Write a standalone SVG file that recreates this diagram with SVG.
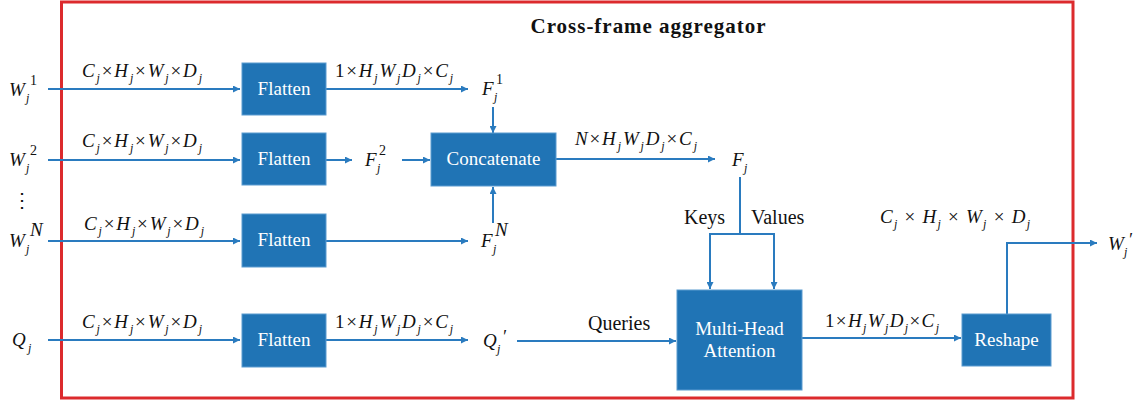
<svg xmlns="http://www.w3.org/2000/svg" width="1138" height="404" viewBox="0 0 1138 404">
<style>
.box{fill:#2074b5;stroke:#5a9bd0;stroke-width:1}
.bt{font-family:'Liberation Serif',serif;font-size:19px;fill:#ffffff;text-anchor:middle}
.c{fill:none;stroke:#2a7bbf;stroke-width:2}
.m{font-family:'Liberation Serif',serif;font-style:italic;font-size:19px;fill:#111}
.s{font-size:12px}
.n{font-style:normal}
.sup{font-family:'Liberation Serif',serif;font-size:14px;fill:#111}
.pr{font-family:'Liberation Serif',serif;font-style:italic;font-size:18px;fill:#111}
.lb{font-family:'Liberation Serif',serif;font-size:20px;fill:#111}
</style>
<defs>
<marker id="ah" viewBox="0 0 10 10" refX="10" refY="5" markerWidth="8" markerHeight="7" markerUnits="userSpaceOnUse" orient="auto">
<path d="M0,0 L10,5 L0,10 z" fill="#2a7bbf"/>
</marker>
</defs>
<rect x="61.5" y="2" width="1011.5" height="396" fill="none" stroke="#dc2a2d" stroke-width="3"/>
<text x="648" y="33" font-family="'Liberation Serif',serif" font-weight="bold" font-size="21" text-anchor="middle" fill="#111" textLength="235">Cross-frame aggregator</text>

<g id="connectors">
<path class="c" d="M48,89 H240" marker-end="url(#ah)"/>
<path class="c" d="M326,89 H468" marker-end="url(#ah)"/>
<path class="c" d="M48,160 H240" marker-end="url(#ah)"/>
<path class="c" d="M326,160 H352" marker-end="url(#ah)"/>
<path class="c" d="M402,160 H430" marker-end="url(#ah)"/>
<path class="c" d="M493,107 V133" marker-end="url(#ah)"/>
<path class="c" d="M493,223 V187" marker-end="url(#ah)"/>
<path class="c" d="M48,241 H240" marker-end="url(#ah)"/>
<path class="c" d="M326,241 H468" marker-end="url(#ah)"/>
<path class="c" d="M48,340 H240" marker-end="url(#ah)"/>
<path class="c" d="M326,340 H468" marker-end="url(#ah)"/>
<path class="c" d="M556,159 H715" marker-end="url(#ah)"/>
<path class="c" d="M740,177 V234 H710 V289" marker-end="url(#ah)"/>
<path class="c" d="M740,234 H774 V289" marker-end="url(#ah)"/>
<path class="c" d="M517,341 H676" marker-end="url(#ah)"/>
<path class="c" d="M802,338 H961" marker-end="url(#ah)"/>
<path class="c" d="M1007,314 V243 H1097" marker-end="url(#ah)"/>
</g>

<g id="flatten1"><rect class="box" x="242" y="63" width="84" height="52"/><text class="bt" x="284" y="95">Flatten</text></g>
<g id="flatten2"><rect class="box" x="242" y="133" width="84" height="52"/><text class="bt" x="284" y="165">Flatten</text></g>
<g id="flattenN"><rect class="box" x="242" y="214" width="84" height="53"/><text class="bt" x="284" y="246">Flatten</text></g>
<g id="flattenQ"><rect class="box" x="242" y="314" width="84" height="53"/><text class="bt" x="284" y="346">Flatten</text></g>
<g id="concat"><rect class="box" x="431" y="133" width="125" height="53"/><text class="bt" x="493.5" y="165">Concatenate</text></g>
<g id="mha"><rect class="box" x="677" y="290" width="125" height="100"/><text class="bt" x="739.5" y="335">Multi-Head</text><text class="bt" x="739.5" y="357">Attention</text></g>
<g id="reshape"><rect class="box" x="962" y="314" width="89" height="52"/><text class="bt" x="1006.5" y="346">Reshape</text></g>

<g id="inputs">
<text class="m" x="9" y="96">W</text><text class="m s" x="26" y="102">j</text><text class="sup" x="30" y="85">1</text>
<text class="m" x="9" y="166">W</text><text class="m s" x="26" y="172">j</text><text class="sup" x="30" y="155">2</text>
<text class="lb" x="22" y="207" text-anchor="middle">⋮</text>
<text class="m" x="9" y="247">W</text><text class="m s" x="26" y="253">j</text><text class="m" x="30" y="236" font-size="14">N</text>
<text class="m" x="12" y="346">Q</text><text class="m s" x="28" y="352">j</text>
</g>

<g id="dimlabels">
<text class="m" x="82" y="77" textLength="120">C<tspan class="s" dy="5">j</tspan><tspan class="n" dy="-5">×</tspan>H<tspan class="s" dy="5">j</tspan><tspan class="n" dy="-5">×</tspan>W<tspan class="s" dy="5">j</tspan><tspan class="n" dy="-5">×</tspan>D<tspan class="s" dy="5">j</tspan></text>
<text class="m" x="82" y="147" textLength="120">C<tspan class="s" dy="5">j</tspan><tspan class="n" dy="-5">×</tspan>H<tspan class="s" dy="5">j</tspan><tspan class="n" dy="-5">×</tspan>W<tspan class="s" dy="5">j</tspan><tspan class="n" dy="-5">×</tspan>D<tspan class="s" dy="5">j</tspan></text>
<text class="m" x="84" y="230" textLength="120">C<tspan class="s" dy="5">j</tspan><tspan class="n" dy="-5">×</tspan>H<tspan class="s" dy="5">j</tspan><tspan class="n" dy="-5">×</tspan>W<tspan class="s" dy="5">j</tspan><tspan class="n" dy="-5">×</tspan>D<tspan class="s" dy="5">j</tspan></text>
<text class="m" x="82" y="328" textLength="120">C<tspan class="s" dy="5">j</tspan><tspan class="n" dy="-5">×</tspan>H<tspan class="s" dy="5">j</tspan><tspan class="n" dy="-5">×</tspan>W<tspan class="s" dy="5">j</tspan><tspan class="n" dy="-5">×</tspan>D<tspan class="s" dy="5">j</tspan></text>
<text class="m" x="335" y="77" textLength="118"><tspan class="n">1×</tspan>H<tspan class="s" dy="5">j</tspan><tspan dy="-5">W</tspan><tspan class="s" dy="5">j</tspan><tspan dy="-5">D</tspan><tspan class="s" dy="5">j</tspan><tspan class="n" dy="-5">×</tspan>C<tspan class="s" dy="5">j</tspan></text>
<text class="m" x="335" y="328" textLength="118"><tspan class="n">1×</tspan>H<tspan class="s" dy="5">j</tspan><tspan dy="-5">W</tspan><tspan class="s" dy="5">j</tspan><tspan dy="-5">D</tspan><tspan class="s" dy="5">j</tspan><tspan class="n" dy="-5">×</tspan>C<tspan class="s" dy="5">j</tspan></text>
<text class="m" x="825" y="327" textLength="114"><tspan class="n">1×</tspan>H<tspan class="s" dy="5">j</tspan><tspan dy="-5">W</tspan><tspan class="s" dy="5">j</tspan><tspan dy="-5">D</tspan><tspan class="s" dy="5">j</tspan><tspan class="n" dy="-5">×</tspan>C<tspan class="s" dy="5">j</tspan></text>
<text class="m" x="575" y="145" textLength="122">N<tspan class="n">×</tspan>H<tspan class="s" dy="5">j</tspan><tspan dy="-5">W</tspan><tspan class="s" dy="5">j</tspan><tspan dy="-5">D</tspan><tspan class="s" dy="5">j</tspan><tspan class="n" dy="-5">×</tspan>C<tspan class="s" dy="5">j</tspan></text>
<text class="m" x="880" y="223" textLength="150">C<tspan class="s" dy="5">j</tspan><tspan class="n" dy="-5"> × </tspan>H<tspan class="s" dy="5">j</tspan><tspan class="n" dy="-5"> × </tspan>W<tspan class="s" dy="5">j</tspan><tspan class="n" dy="-5"> × </tspan>D<tspan class="s" dy="5">j</tspan></text>
</g>

<g id="features">
<text class="m" x="482" y="95">F</text><text class="m s" x="494" y="101">j</text><text class="sup" x="496" y="84">1</text>
<text class="m" x="365" y="166">F</text><text class="m s" x="377" y="172">j</text><text class="sup" x="379" y="155">2</text>
<text class="m" x="481" y="247">F</text><text class="m s" x="493" y="253">j</text><text class="m" x="495" y="236" font-size="14">N</text>
<text class="m" x="483" y="347">Q</text><text class="m s" x="497" y="353">j</text><text class="pr" x="502" y="343">′</text>
<text class="m" x="732" y="166">F</text><text class="m s" x="744" y="172">j</text>
<text class="m" x="1108" y="250">W</text><text class="m s" x="1124" y="256">j</text><text class="pr" x="1128" y="246">′</text>
</g>

<g id="edgelabels">
<text class="lb" x="684" y="224">Keys</text>
<text class="lb" x="751" y="224">Values</text>
<text class="lb" x="588" y="330">Queries</text>
</g>
</svg>
